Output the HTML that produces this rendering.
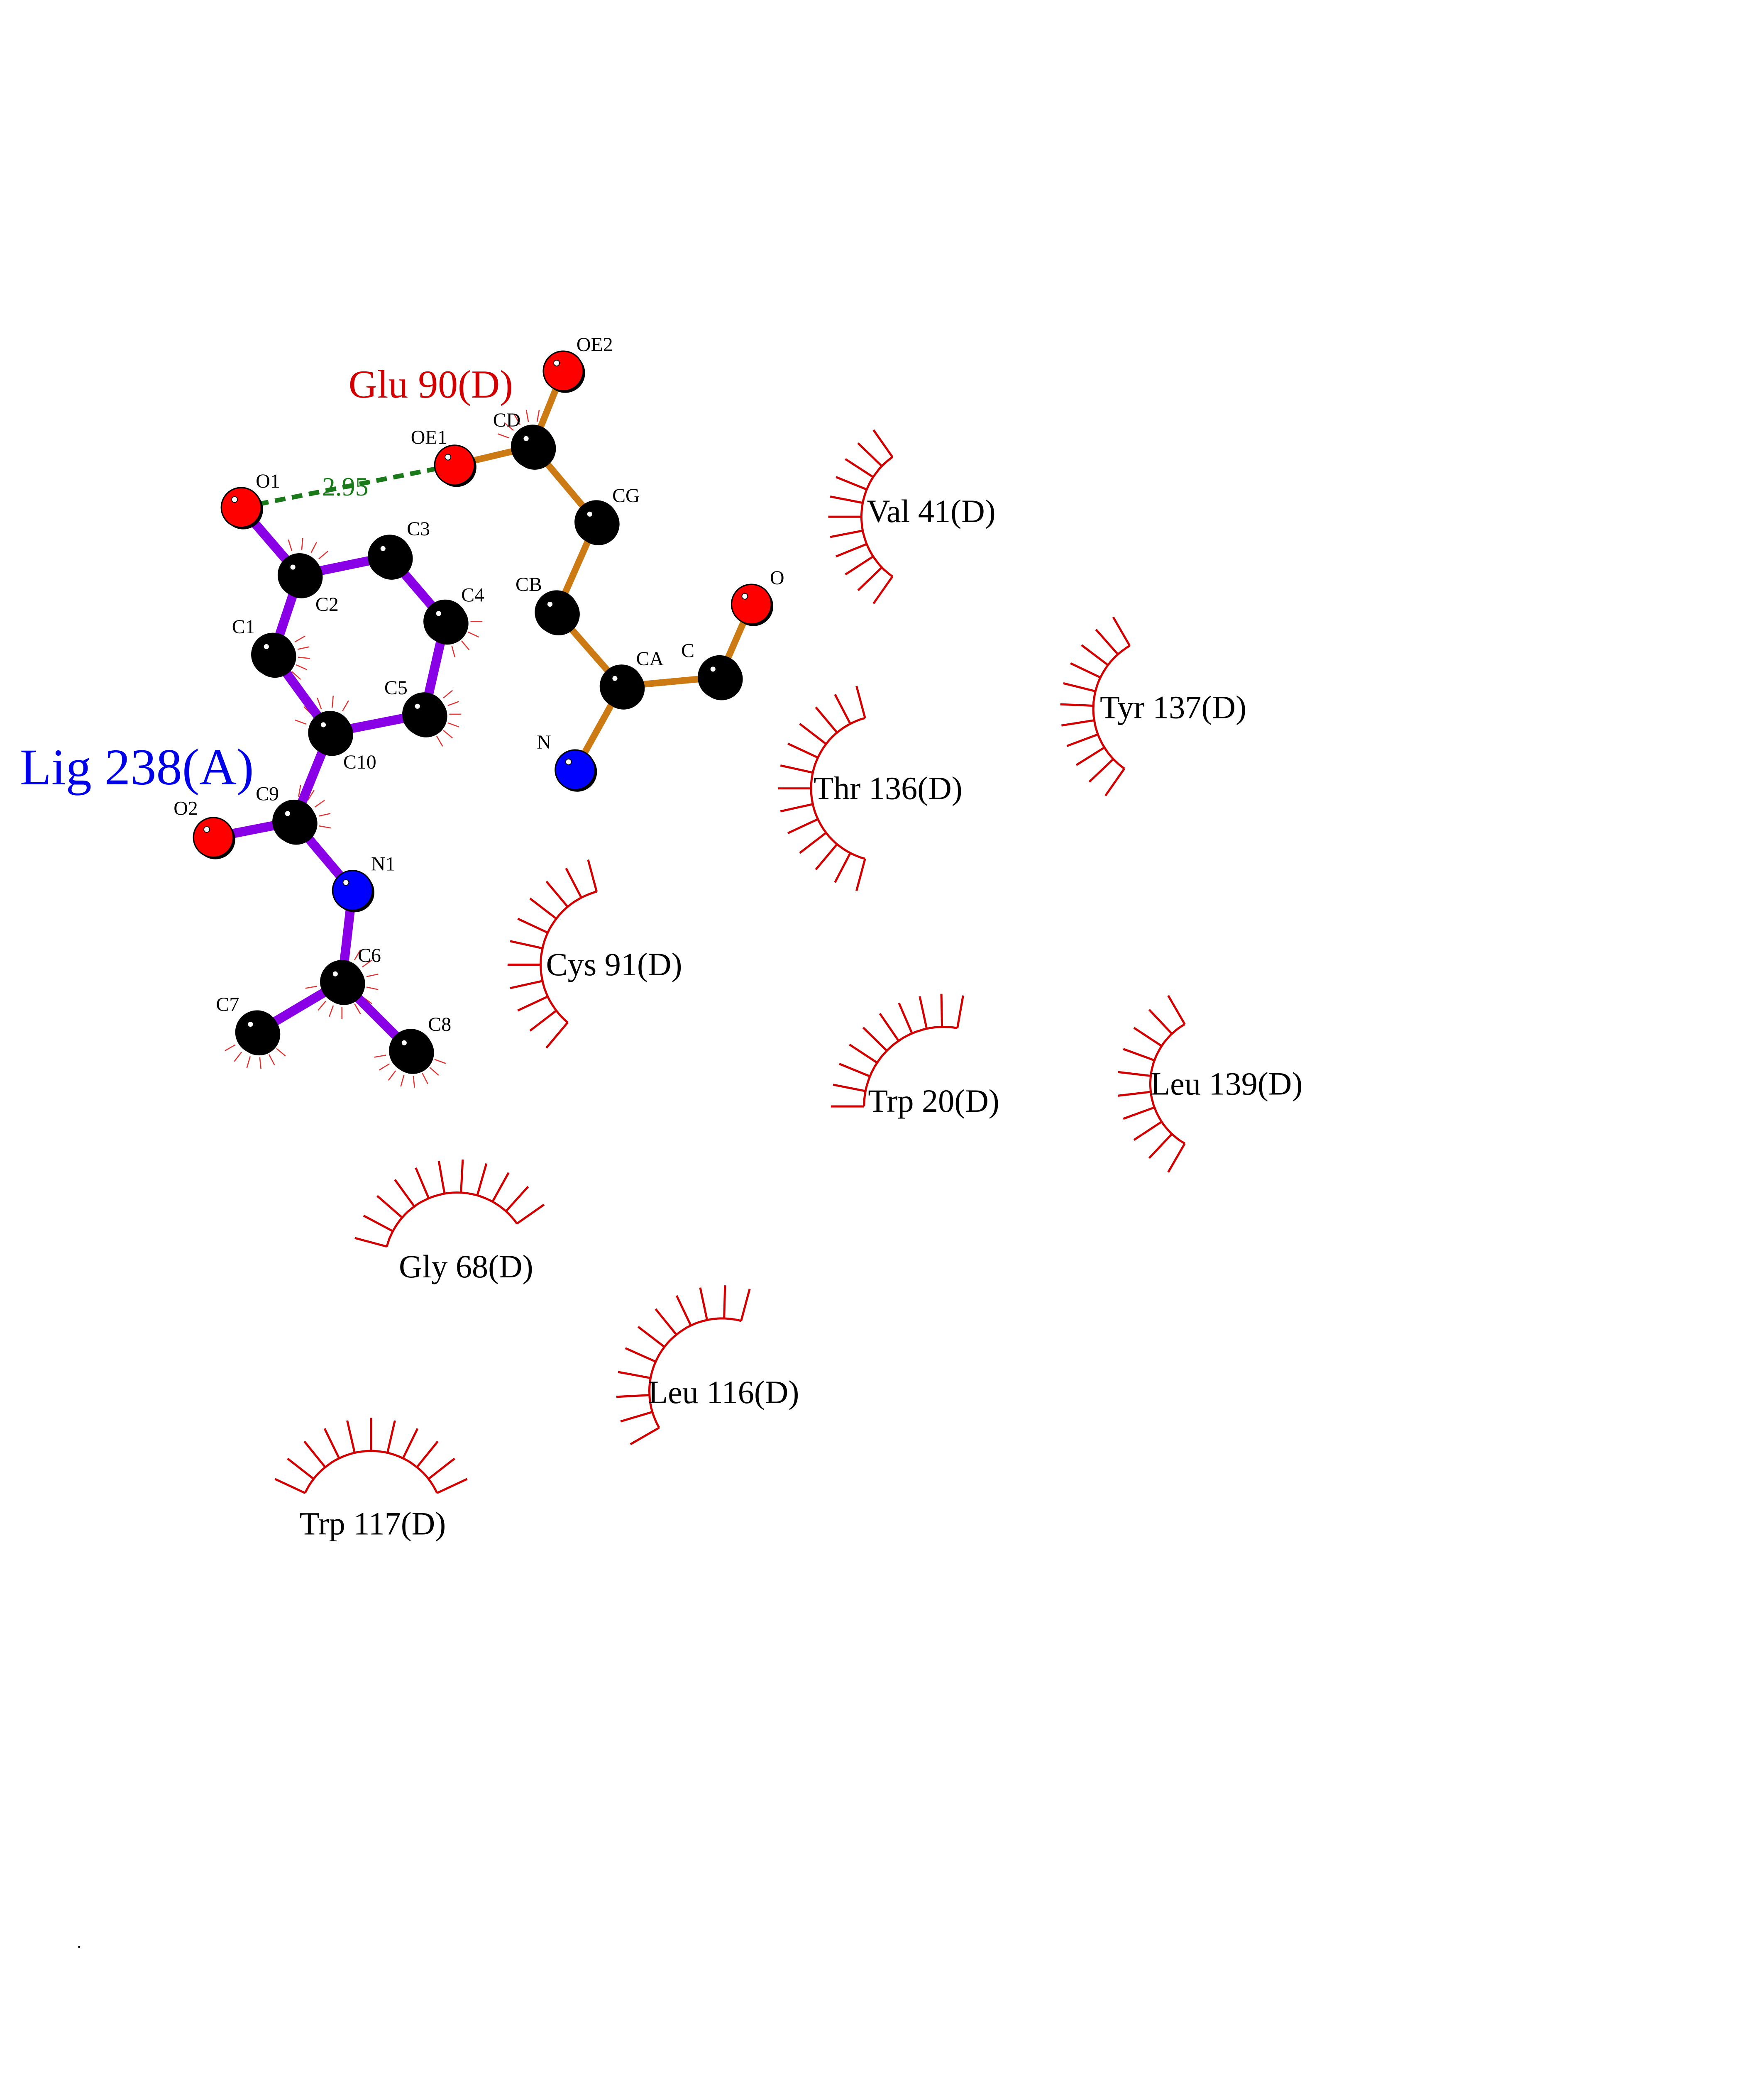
<!DOCTYPE html>
<html><head><meta charset="utf-8">
<style>html,body{margin:0;padding:0;background:#fff;width:100%;height:100%;overflow:hidden}svg{display:block;position:absolute;left:0;top:0;height:100vh;width:calc(100vh * 1210 / 1566)}</style>
</head><body>
<svg id="s" viewBox="0 0 1210 1566" xmlns="http://www.w3.org/2000/svg" font-family="Liberation Serif, serif">
<g id="arcs" stroke="#d00000" fill="none" stroke-width="1.6"></g>
<g id="ticks" stroke="#e03030" stroke-width="0.8"></g>
<line x1="182" y1="383" x2="343" y2="351" stroke="#1a7a1a" stroke-width="3.5" stroke-dasharray="8,5"/>
<text x="243" y="374" font-size="20" fill="#1a7a1a">2.95</text>
<g stroke="#8a00e6" stroke-width="7" stroke-linecap="round">
<line x1="182" y1="383" x2="226" y2="434"/>
<line x1="226" y1="434" x2="294" y2="420"/>
<line x1="294" y1="420" x2="336" y2="469"/>
<line x1="336" y1="469" x2="320" y2="539"/>
<line x1="320" y1="539" x2="249" y2="553"/>
<line x1="249" y1="553" x2="206" y2="494"/>
<line x1="206" y1="494" x2="226" y2="434"/>
<line x1="249" y1="553" x2="222" y2="620"/>
<line x1="222" y1="620" x2="161" y2="632"/>
<line x1="222" y1="620" x2="266" y2="672"/>
<line x1="266" y1="672" x2="258" y2="741"/>
<line x1="258" y1="741" x2="194" y2="779"/>
<line x1="258" y1="741" x2="310" y2="793"/>
</g>
<g stroke="#cc7a14" stroke-width="5" stroke-linecap="round">
<line x1="343" y1="351" x2="402" y2="337"/>
<line x1="402" y1="337" x2="425" y2="280"/>
<line x1="402" y1="337" x2="450" y2="394"/>
<line x1="450" y1="394" x2="420" y2="462"/>
<line x1="420" y1="462" x2="469" y2="518"/>
<line x1="469" y1="518" x2="543" y2="511"/>
<line x1="543" y1="511" x2="567" y2="456"/>
<line x1="469" y1="518" x2="434" y2="581"/>
</g>
<g id="atoms"></g>
<g font-size="15" fill="#000">
<text x="193" y="368">O1</text>
<text x="238" y="461">C2</text>
<text x="307" y="404">C3</text>
<text x="348" y="454">C4</text>
<text x="290" y="524">C5</text>
<text x="175" y="478">C1</text>
<text x="259" y="580">C10</text>
<text x="193" y="604">C9</text>
<text x="131" y="615">O2</text>
<text x="280" y="657">N1</text>
<text x="270" y="726">C6</text>
<text x="163" y="763">C7</text>
<text x="323" y="778">C8</text>
<text x="310" y="335">OE1</text>
<text x="372" y="322">CD</text>
<text x="435" y="265">OE2</text>
<text x="462" y="379">CG</text>
<text x="389" y="446">CB</text>
<text x="480" y="502">CA</text>
<text x="514" y="496">C</text>
<text x="581" y="441">O</text>
<text x="405" y="565">N</text>
</g>
<text x="263" y="300" font-size="30" fill="#d00000">Glu 90(D)</text>
<text x="15" y="592" font-size="39" fill="#0000e6">Lig 238(A)</text>
<g font-size="24.5" fill="#000">
<text x="654" y="394">Val 41(D)</text>
<text x="830" y="542">Tyr 137(D)</text>
<text x="614" y="603">Thr 136(D)</text>
<text x="412" y="736">Cys 91(D)</text>
<text x="655" y="839">Trp 20(D)</text>
<text x="868" y="826">Leu 139(D)</text>
<text x="301" y="964">Gly 68(D)</text>
<text x="489" y="1059">Leu 116(D)</text>
<text x="226" y="1158">Trp 117(D)</text>
</g>
<text x="58" y="1470" font-size="14">.</text>
</svg>
<script>
var NS="http://www.w3.org/2000/svg";
function el(p,t,a){var e=document.createElementNS(NS,t);for(var k in a)e.setAttribute(k,a[k]);p.appendChild(e);return e;}
var arcs=document.getElementById('arcs');
function hy(cx,cy,r,a0,a1,n){
 var d="",rad=Math.PI/180;
 for(var i=0;i<=40;i++){var a=(a0+(a1-a0)*i/40)*rad;d+=(i?"L":"M")+(cx+r*Math.cos(a)).toFixed(1)+" "+(cy+r*Math.sin(a)).toFixed(1);}
 el(arcs,'path',{d:d});
 for(var j=0;j<n;j++){var a=(a0+(a1-a0)*j/(n-1))*rad;
  el(arcs,'line',{x1:cx+r*Math.cos(a),y1:cy+r*Math.sin(a),x2:cx+(r+25)*Math.cos(a),y2:cy+(r+25)*Math.sin(a)});}
}
hy(705,390,55,125,235,11);
hy(880,535,55,125,240,11);
hy(667,595,55,105,255,13);
hy(465,728,57,130,255,11);
hy(712,835,60,180,280,10);
hy(920,818,52,120,240,10);
hy(345,955,55,195,325,11);
hy(545,1050,55,150,285,11);
hy(280,1150,55,205,335,11);
var ticks=document.getElementById('ticks');
function tk(cx,cy,a0,a1,n){var rad=Math.PI/180;for(var j=0;j<n;j++){var a=(a0+(a1-a0)*j/(n-1))*rad;
 el(ticks,'line',{x1:cx+19*Math.cos(a),y1:cy+19*Math.sin(a),x2:cx+28*Math.cos(a),y2:cy+28*Math.sin(a)});}}
tk(226,434,230,320,5);tk(206,494,-30,60,6);tk(320,539,-40,60,6);tk(336,469,0,100,5);
tk(249,553,200,300,5);tk(258,741,-60,60,6);tk(258,741,90,170,5);tk(194,779,40,150,6);
tk(310,793,20,170,8);tk(222,620,-80,10,5);tk(402,337,200,280,5);
var atoms=document.getElementById('atoms');
var A=[[182,383,'r'],[226,434,'k'],[294,420,'k'],[336,469,'k'],[320,539,'k'],[249,553,'k'],[206,494,'k'],[222,620,'k'],[161,632,'r'],[266,672,'b'],[258,741,'k'],[194,779,'k'],[310,793,'k'],
[343,351,'r'],[402,337,'k'],[425,280,'r'],[450,394,'k'],[420,462,'k'],[469,518,'k'],[543,511,'k'],[567,456,'r'],[434,581,'b']];
var C={r:'#ff0000',k:'#000000',b:'#0000ff'};
A.forEach(function(a){var r=(a[2]=='k')?16:15;
 el(atoms,'circle',{cx:a[0]+1.5,cy:a[1]+1.5,r:r,fill:'#000'});
 el(atoms,'circle',{cx:a[0],cy:a[1],r:r,fill:C[a[2]],stroke:'#000','stroke-width':1});
 el(atoms,'circle',{cx:a[0]-5,cy:a[1]-6,r:2.2,fill:'#fff',stroke:'#000','stroke-width':0.6});
});
</script>
</body></html>
